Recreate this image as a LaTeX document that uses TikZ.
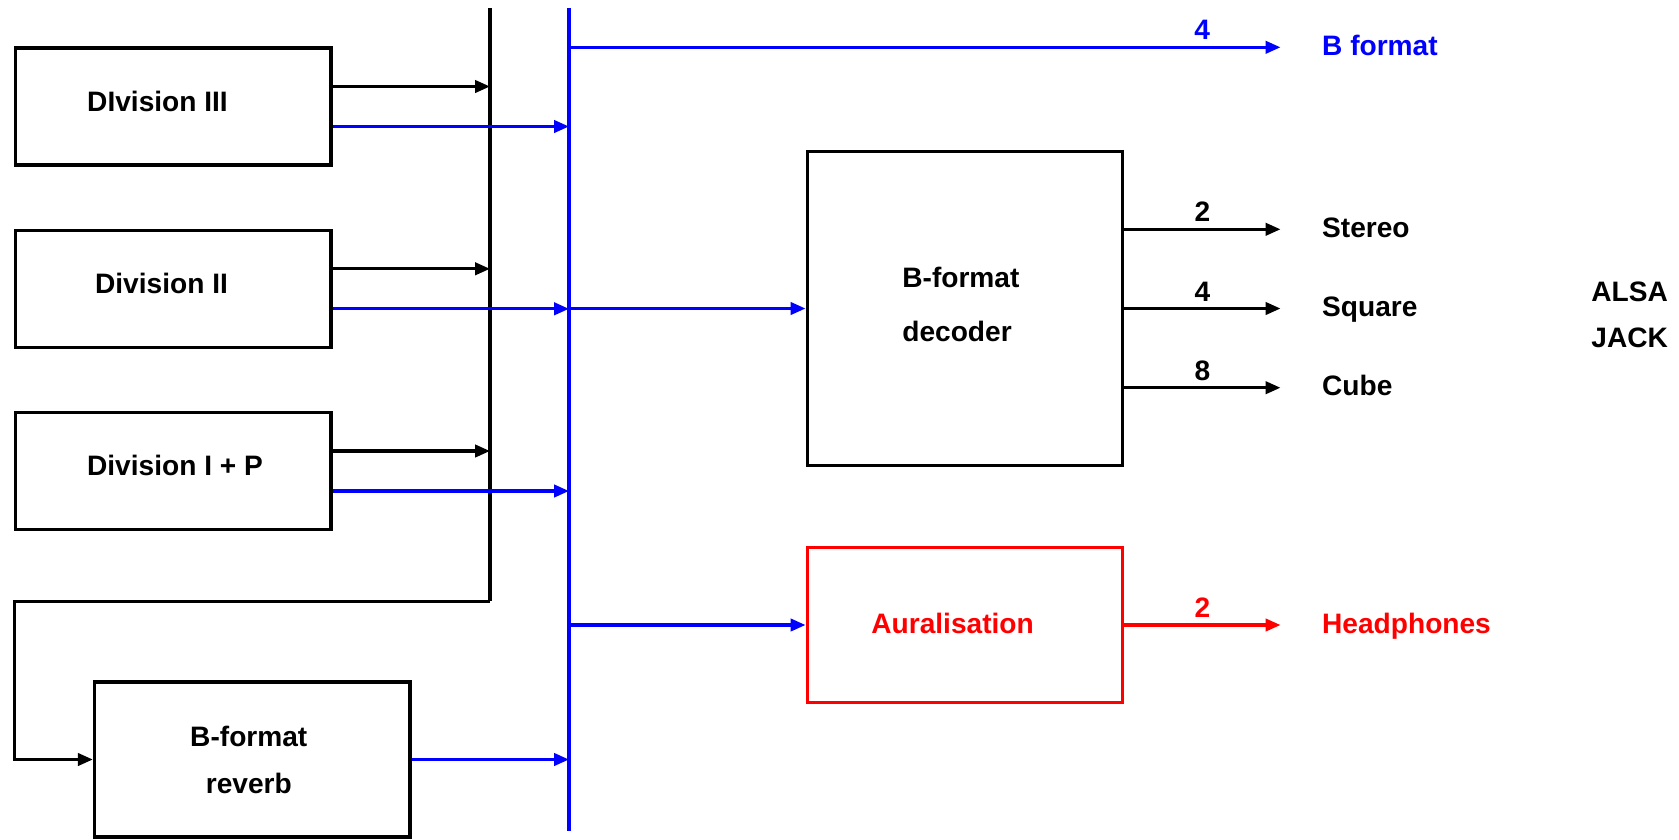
\documentclass[tikz,border=0pt]{standalone}
\usepackage{fontspec}
\setmainfont{Liberation Sans}
\usetikzlibrary{calc}
\usetikzlibrary{arrows.meta}

\tikzset{
  blk/.style={draw, line width=1.8pt, inner sep=0pt, minimum width=315.6*\u},
  lbl/.style={inner sep=0pt, anchor=base},
  outl/.style={inner sep=0pt, anchor=base west},
  num/.style={inner sep=0pt, anchor=base, yshift=7.5*\u},
  wire/.style={line width=1.8pt, -{Triangle[length=8.5pt,width=7pt]}},
}

\begin{document}
\begin{tikzpicture}[font=\fontsize{16}{19}\selectfont\bfseries]
\def\u{0.02cm}
\useasboundingbox (0,0) rectangle (1679*\u, -839*\u);

\node[blk, minimum height=117*\u] (div3) at (173.2*\u, -106.5*\u) {};
\node[blk, minimum height=117*\u] (div2) at (173.2*\u, -288.8*\u) {};
\node[blk, minimum height=117*\u] (div1) at (173.2*\u, -471*\u) {};
\node[blk, minimum height=155*\u] (rev) at (252.2*\u, -759.5*\u) {};
\node[blk, minimum height=314.3*\u] (dec) at (964.9*\u, -308.5*\u) {};
\node[blk, red, minimum height=155.4*\u] (aur) at (964.9*\u, -625*\u) {};

\node[lbl] (div3t) at (157.5*\u, -111.7*\u) {DIvision III};
\node[lbl] (div2t) at (161.5*\u, -293.3*\u) {Division II};
\node[lbl] (div1t) at (175*\u, -475*\u) {Division I + P};
\node[align=center, inner sep=0pt, font=\fontsize{16}{26.6}\selectfont\bfseries] (revt) at (248.8*\u, -759.7*\u) {B-format\\reverb};
\node[align=left, anchor=west, inner sep=0pt, font=\fontsize{16}{31}\selectfont\bfseries] (dect) at (902*\u, -304.5*\u) {B-format\\decoder};
\node[lbl, red] (aurt) at (952.6*\u, -633.3*\u) {Auralisation};

\coordinate (bk) at (490*\u, -8.3*\u);
\coordinate (bkb) at (490*\u, -601.3*\u);
\coordinate (ret) at (14.2*\u, -759.5*\u);
\coordinate (bl) at (569*\u, -8.3*\u);
\coordinate (blb) at (569*\u, -830.7*\u);

\draw[line width=1.8pt] (bk) -- (bkb);
\draw[wire] (bkb) -| (ret) -- (rev.west);
\draw[blue, line width=1.8pt] (bl) -- (blb);

\foreach \n in {div3,div2,div1}{
  \draw[wire] ($(\n.east)+(0,20*\u)$) coordinate (a) -- (a -| bk);
  \draw[wire, blue] ($(\n.east)+(0,-20*\u)$) coordinate (b) -- (b -| bl);
}
\draw[wire, blue] (rev.east) -- (rev.east -| bl);
\draw[wire, blue] (dec.west -| bl) -- (dec.west);
\draw[wire, blue] (aur.west -| bl) -- (aur.west);

\coordinate (bf) at (1280.5*\u, -47.3*\u);
\coordinate (o1) at (1280.5*\u, -229.3*\u);
\coordinate (o2) at (1280.5*\u, -308.5*\u);
\coordinate (o3) at (1280.5*\u, -387.7*\u);
\coordinate (o4) at (1280.5*\u, -625*\u);

\draw[wire, blue] (bf -| bl) -- node[num, pos=0.89] (nbf) {4} (bf);
\draw[wire] (o1 -| dec.east) -- node[num] (n1) {2} (o1);
\draw[wire] (o2 -| dec.east) -- node[num] (n2) {4} (o2);
\draw[wire] (o3 -| dec.east) -- node[num] (n3) {8} (o3);
\draw[wire, red] (aur.east) -- node[num] (n4) {2} (o4);

\node[outl, blue] (bform) at ($(bf)+(41.3*\u,-8*\u)$) {B format};
\node[outl] (stereo) at ($(o1)+(41.3*\u,-8*\u)$) {Stereo};
\node[outl] (square) at ($(o2)+(41.3*\u,-8*\u)$) {Square};
\node[outl] (cube) at ($(o3)+(41.3*\u,-8*\u)$) {Cube};
\node[outl, red] (phones) at ($(o4)+(41.3*\u,-8*\u)$) {Headphones};
\node[align=left, anchor=west, inner sep=0pt, font=\fontsize{16}{26.5}\selectfont\bfseries] (api) at (1591*\u, -315*\u) {ALSA\\JACK};
\end{tikzpicture}
\end{document}
